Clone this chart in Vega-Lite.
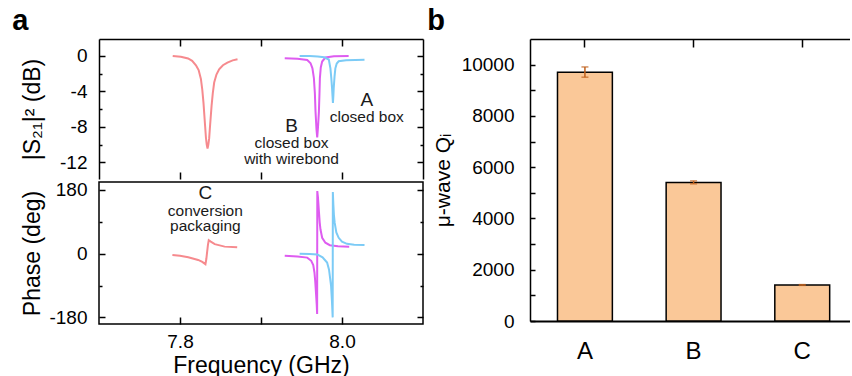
{
  "$schema": "https://vega.github.io/schema/vega-lite/v6.json",
  "padding": {"left": 12, "top": 7, "right": 0, "bottom": 0},
  "background": "white",
  "config": {
    "font": "Liberation Sans",
    "view": {"stroke": "black", "strokeWidth": 1.5},
    "axis": {"grid": false, "domainColor": "black", "tickColor": "black", "labelColor": "black", "titleColor": "black", "labelFontSize": 19, "titleFontSize": 23, "titleFontWeight": "normal", "tickWidth": 1.5, "domainWidth": 1.5},
    "title": {"fontSize": 29, "fontWeight": "bold", "anchor": "start", "color": "black"}
  },
  "datasets": {
    "mag": [
      {"s": "C", "f": 7.791, "v": 0.0},
      {"s": "C", "f": 7.801, "v": -0.1},
      {"s": "C", "f": 7.810, "v": -0.28},
      {"s": "C", "f": 7.815, "v": -0.55},
      {"s": "C", "f": 7.8197, "v": -1.05},
      {"s": "C", "f": 7.823, "v": -1.6},
      {"s": "C", "f": 7.8258, "v": -2.6},
      {"s": "C", "f": 7.8275, "v": -3.8},
      {"s": "C", "f": 7.829, "v": -5.3},
      {"s": "C", "f": 7.830, "v": -6.6},
      {"s": "C", "f": 7.831, "v": -7.9},
      {"s": "C", "f": 7.832, "v": -9.2},
      {"s": "C", "f": 7.833, "v": -10.0},
      {"s": "C", "f": 7.834, "v": -10.45},
      {"s": "C", "f": 7.835, "v": -10.0},
      {"s": "C", "f": 7.836, "v": -9.3},
      {"s": "C", "f": 7.837, "v": -8.0},
      {"s": "C", "f": 7.838, "v": -6.8},
      {"s": "C", "f": 7.839, "v": -5.6},
      {"s": "C", "f": 7.8405, "v": -4.2},
      {"s": "C", "f": 7.8422, "v": -3.0},
      {"s": "C", "f": 7.845, "v": -2.1},
      {"s": "C", "f": 7.8483, "v": -1.5},
      {"s": "C", "f": 7.853, "v": -1.05},
      {"s": "C", "f": 7.8585, "v": -0.75},
      {"s": "C", "f": 7.865, "v": -0.5},
      {"s": "C", "f": 7.871, "v": -0.38},
      {"s": "B", "f": 7.9293, "v": -0.26},
      {"s": "B", "f": 7.945, "v": -0.33},
      {"s": "B", "f": 7.9571, "v": -0.45},
      {"s": "B", "f": 7.9612, "v": -0.82},
      {"s": "B", "f": 7.9635, "v": -1.4},
      {"s": "B", "f": 7.9653, "v": -2.5},
      {"s": "B", "f": 7.9665, "v": -4.2},
      {"s": "B", "f": 7.9673, "v": -6.25},
      {"s": "B", "f": 7.9685, "v": -8.3},
      {"s": "B", "f": 7.9694, "v": -9.2},
      {"s": "B", "f": 7.9704, "v": -8.0},
      {"s": "B", "f": 7.9715, "v": -6.25},
      {"s": "B", "f": 7.9722, "v": -4.2},
      {"s": "B", "f": 7.9727, "v": -2.5},
      {"s": "B", "f": 7.9738, "v": -1.3},
      {"s": "B", "f": 7.9755, "v": -0.63},
      {"s": "B", "f": 7.9795, "v": -0.18},
      {"s": "B", "f": 7.990, "v": -0.03},
      {"s": "B", "f": 8.0082, "v": 0.0},
      {"s": "A", "f": 7.9477, "v": 0.0},
      {"s": "A", "f": 7.960, "v": -0.02},
      {"s": "A", "f": 7.970, "v": -0.06},
      {"s": "A", "f": 7.978, "v": -0.15},
      {"s": "A", "f": 7.9837, "v": -0.4},
      {"s": "A", "f": 7.9857, "v": -1.4},
      {"s": "A", "f": 7.9868, "v": -2.5},
      {"s": "A", "f": 7.9877, "v": -3.6},
      {"s": "A", "f": 7.9884, "v": -4.7},
      {"s": "A", "f": 7.9888, "v": -5.3},
      {"s": "A", "f": 7.9893, "v": -4.6},
      {"s": "A", "f": 7.9898, "v": -3.6},
      {"s": "A", "f": 7.9908, "v": -2.3},
      {"s": "A", "f": 7.9918, "v": -1.4},
      {"s": "A", "f": 7.9935, "v": -0.85},
      {"s": "A", "f": 7.9959, "v": -0.6},
      {"s": "A", "f": 8.005, "v": -0.48},
      {"s": "A", "f": 8.0278, "v": -0.42}
    ],
    "phase": [
      {"s": "C", "f": 7.7906, "v": -3.7},
      {"s": "C", "f": 7.800, "v": -6},
      {"s": "C", "f": 7.8102, "v": -10},
      {"s": "C", "f": 7.8224, "v": -17.6},
      {"s": "C", "f": 7.8275, "v": -23},
      {"s": "C", "f": 7.8314, "v": -29.5},
      {"s": "C", "f": 7.8325, "v": -15},
      {"s": "C", "f": 7.8335, "v": 5},
      {"s": "C", "f": 7.8345, "v": 25},
      {"s": "C", "f": 7.8355, "v": 38},
      {"s": "C", "f": 7.838, "v": 34},
      {"s": "C", "f": 7.8429, "v": 27},
      {"s": "C", "f": 7.8551, "v": 20},
      {"s": "C", "f": 7.8706, "v": 18},
      {"s": "B", "f": 7.9293, "v": -5.6},
      {"s": "B", "f": 7.945, "v": -8},
      {"s": "B", "f": 7.9571, "v": -11},
      {"s": "B", "f": 7.962, "v": -20},
      {"s": "B", "f": 7.9645, "v": -32},
      {"s": "B", "f": 7.966, "v": -53},
      {"s": "B", "f": 7.967, "v": -80},
      {"s": "B", "f": 7.968, "v": -115},
      {"s": "B", "f": 7.9688, "v": -145},
      {"s": "B", "f": 7.9693, "v": -170},
      {"s": "B", "f": 7.9695, "v": 177},
      {"s": "B", "f": 7.9703, "v": 160},
      {"s": "B", "f": 7.9715, "v": 120},
      {"s": "B", "f": 7.9725, "v": 88},
      {"s": "B", "f": 7.9734, "v": 69},
      {"s": "B", "f": 7.9755, "v": 45},
      {"s": "B", "f": 7.9795, "v": 31},
      {"s": "B", "f": 7.985, "v": 24},
      {"s": "B", "f": 7.995, "v": 21},
      {"s": "B", "f": 8.0089, "v": 20},
      {"s": "A", "f": 7.9477, "v": 0},
      {"s": "A", "f": 7.960, "v": -1},
      {"s": "A", "f": 7.9694, "v": -2},
      {"s": "A", "f": 7.976, "v": -10},
      {"s": "A", "f": 7.9816, "v": -25},
      {"s": "A", "f": 7.984, "v": -45},
      {"s": "A", "f": 7.9865, "v": -91},
      {"s": "A", "f": 7.9876, "v": -135},
      {"s": "A", "f": 7.9885, "v": -180},
      {"s": "A", "f": 7.9887, "v": 174},
      {"s": "A", "f": 7.9893, "v": 140},
      {"s": "A", "f": 7.990, "v": 110},
      {"s": "A", "f": 7.991, "v": 87},
      {"s": "A", "f": 7.993, "v": 60},
      {"s": "A", "f": 7.9959, "v": 45},
      {"s": "A", "f": 8.000, "v": 34},
      {"s": "A", "f": 8.0061, "v": 28},
      {"s": "A", "f": 8.015, "v": 25.5},
      {"s": "A", "f": 8.0278, "v": 24.5}
    ],
    "notes": [
      {"p": "mag", "kind": "letter", "f": 8.0306, "v": -4.93, "t": "A"},
      {"p": "mag", "kind": "desc", "f": 8.0306, "v": -6.93, "t": "closed box"},
      {"p": "mag", "kind": "letter", "f": 7.9377, "v": -7.87, "t": "B"},
      {"p": "mag", "kind": "desc", "f": 7.9377, "v": -9.86, "t": "closed box"},
      {"p": "mag", "kind": "desc", "f": 7.9377, "v": -11.62, "t": "with wirebond"},
      {"p": "phase", "kind": "letter", "f": 7.8313, "v": 172, "t": "C"},
      {"p": "phase", "kind": "desc", "f": 7.8313, "v": 122, "t": "conversion"},
      {"p": "phase", "kind": "desc", "f": 7.8313, "v": 77, "t": "packaging"}
    ],
    "bars": [
      {"cat": "A", "q": 9705, "lo": 9510, "hi": 9910},
      {"cat": "B", "q": 5405, "lo": 5350, "hi": 5465},
      {"cat": "C", "q": 1405, "lo": 1390, "hi": 1420}
    ]
  },
  "hconcat": [
    {
      "title": {"text": "a", "frame": "bounds", "baseline": "alphabetic", "offset": -21, "dx": -8},
      "spacing": 0,
      "vconcat": [
        {
          "width": 324,
          "height": 140,
          "view": {"stroke": null},
          "layer": [
            {
              "data": {"name": "mag"},
              "mark": {"type": "line", "strokeWidth": 2},
              "encoding": {
                "x": {"field": "f", "type": "quantitative", "scale": {"domain": [7.7, 8.1], "nice": false, "zero": false},
                  "axis": {"orient": "bottom", "values": [7.8, 7.9, 8.0], "labels": false, "title": null, "tickSize": -7, "domain": false}},
                "y": {"field": "v", "type": "quantitative", "scale": {"domain": [-13.88, 1.91], "nice": false, "zero": false},
                  "axis": {"orient": "left", "values": [0, -2, -4, -6, -8, -10, -12], "labelExpr": "datum.value % 4 === 0 ? '' + datum.value : ''", "tickSize": {"condition": {"test": "datum.value % 4 !== 0", "value": -3}, "value": -6}, "labelPadding": 18, "domain": true, "title": "|S₂₁|² (dB)", "titleX": -55}},
                "color": {"field": "s", "type": "nominal", "scale": {"domain": ["A", "B", "C"], "range": ["#7CCBF6", "#DE5CF0", "#F68A8E"]}, "legend": null}
              }
            },
            {
              "data": {"name": "notes"},
              "transform": [{"filter": "datum.p === 'mag' && datum.kind === 'letter'"}],
              "mark": {"type": "text", "fontSize": 19, "align": "center", "baseline": "middle", "fill": "#1a1a1a"},
              "encoding": {
                "x": {"field": "f", "type": "quantitative", "scale": {"domain": [7.7, 8.1], "nice": false, "zero": false},
                  "axis": {"orient": "top", "values": [7.8, 7.9, 8.0], "labels": false, "title": null, "tickSize": -7, "domain": true}},
                "y": {"field": "v", "type": "quantitative", "scale": {"domain": [-13.88, 1.91], "nice": false, "zero": false},
                  "axis": {"orient": "right", "values": [0, -2, -4, -6, -8, -10, -12], "labels": false, "tickSize": {"condition": {"test": "datum.value % 4 !== 0", "value": -3}, "value": -6}, "domain": true, "title": null}},
                "text": {"field": "t"}
              }
            },
            {
              "data": {"name": "notes"},
              "transform": [{"filter": "datum.p === 'mag' && datum.kind === 'desc'"}],
              "mark": {"type": "text", "fontSize": 15.5, "align": "center", "baseline": "middle", "fill": "#1a1a1a"},
              "encoding": {
                "x": {"field": "f", "type": "quantitative", "scale": {"domain": [7.7, 8.1], "nice": false, "zero": false}, "axis": null},
                "y": {"field": "v", "type": "quantitative", "scale": {"domain": [-13.88, 1.91], "nice": false, "zero": false}, "axis": null},
                "text": {"field": "t"}
              }
            }
          ],
          "resolve": {"axis": {"x": "independent", "y": "independent"}}
        },
        {
          "width": 324,
          "height": 142,
          "layer": [
            {
              "data": {"name": "phase"},
              "mark": {"type": "line", "strokeWidth": 2},
              "encoding": {
                "x": {"field": "f", "type": "quantitative", "scale": {"domain": [7.7, 8.1], "nice": false, "zero": false},
                  "axis": {"orient": "bottom", "values": [7.8, 7.9, 8.0], "labelExpr": "datum.value === 7.9 ? '' : format(datum.value, '.1f')", "tickSize": -7, "labelPadding": 15, "title": "Frequency (GHz)", "titlePadding": 3, "domain": false}},
                "y": {"field": "v", "type": "quantitative", "scale": {"domain": [-198.6, 202.6], "nice": false, "zero": false},
                  "axis": {"orient": "left", "values": [180, 90, 0, -90, -180], "labelExpr": "datum.value % 180 === 0 ? '' + datum.value : ''", "tickSize": {"condition": {"test": "datum.value % 180 !== 0", "value": -3}, "value": -6}, "labelPadding": 18, "domain": false, "title": "Phase (deg)", "titleX": -55}},
                "color": {"field": "s", "type": "nominal", "scale": {"domain": ["A", "B", "C"], "range": ["#7CCBF6", "#DE5CF0", "#F68A8E"]}, "legend": null}
              }
            },
            {
              "data": {"name": "notes"},
              "transform": [{"filter": "datum.p === 'phase' && datum.kind === 'letter'"}],
              "mark": {"type": "text", "fontSize": 19, "align": "center", "baseline": "middle", "fill": "#1a1a1a"},
              "encoding": {
                "x": {"field": "f", "type": "quantitative", "scale": {"domain": [7.7, 8.1], "nice": false, "zero": false}, "axis": null},
                "y": {"field": "v", "type": "quantitative", "scale": {"domain": [-198.6, 202.6], "nice": false, "zero": false},
                  "axis": {"orient": "right", "values": [180, 90, 0, -90, -180], "labels": false, "tickSize": {"condition": {"test": "datum.value % 180 !== 0", "value": -3}, "value": -6}, "domain": false, "title": null}},
                "text": {"field": "t"}
              }
            },
            {
              "data": {"name": "notes"},
              "transform": [{"filter": "datum.p === 'phase' && datum.kind === 'desc'"}],
              "mark": {"type": "text", "fontSize": 15.5, "align": "center", "baseline": "middle", "fill": "#1a1a1a"},
              "encoding": {
                "x": {"field": "f", "type": "quantitative", "scale": {"domain": [7.7, 8.1], "nice": false, "zero": false}, "axis": null},
                "y": {"field": "v", "type": "quantitative", "scale": {"domain": [-198.6, 202.6], "nice": false, "zero": false}, "axis": null},
                "text": {"field": "t"}
              }
            }
          ],
          "resolve": {"axis": {"x": "independent", "y": "independent"}}
        }
      ]
    },
    {
      "title": {"text": "b", "frame": "bounds", "baseline": "alphabetic", "offset": -21, "dx": -5},
      "width": 320,
      "height": 282,
      "view": {"stroke": null},
      "layer": [
        {
          "data": {"name": "bars"},
          "mark": {"type": "bar", "fill": "#FAC898", "stroke": "black", "strokeWidth": 1.5},
          "encoding": {
            "x": {"field": "cat", "type": "nominal", "scale": {"domain": ["A", "B", "C"], "paddingInner": 0.495, "paddingOuter": 0.22, "align": 0.575},
              "axis": {"orient": "bottom", "labelAngle": 0, "labelFontSize": 24, "tickSize": -8, "labelPadding": 26, "title": null, "domain": true, "domainWidth": 2}},
            "y": {"field": "q", "type": "quantitative", "scale": {"domain": [0, 11000], "nice": false},
              "axis": {"orient": "left", "values": [0, 1000, 2000, 3000, 4000, 5000, 6000, 7000, 8000, 9000, 10000], "labelExpr": "datum.value % 2000 === 0 ? '' + datum.value : ''", "tickSize": -5, "labelPadding": 21, "title": "μ-wave Qᵢ", "titleFontSize": 21, "titlePadding": 8, "domain": true}}
          }
        },
        {
          "data": {"name": "bars"},
          "mark": {"type": "errorbar", "color": "#C0611C", "ticks": {"size": 7}, "thickness": 1.5},
          "encoding": {
            "x": {"field": "cat", "type": "nominal", "scale": {"domain": ["A", "B", "C"], "paddingInner": 0.495, "paddingOuter": 0.22, "align": 0.575},
              "axis": {"orient": "top", "labels": false, "tickSize": -8, "title": null, "domain": true}},
            "y": {"field": "lo", "type": "quantitative", "scale": {"domain": [0, 11000], "nice": false}, "axis": null},
            "y2": {"field": "hi"}
          }
        }
      ],
      "resolve": {"axis": {"x": "independent", "y": "independent"}}
    }
  ],
  "spacing": 2
}
